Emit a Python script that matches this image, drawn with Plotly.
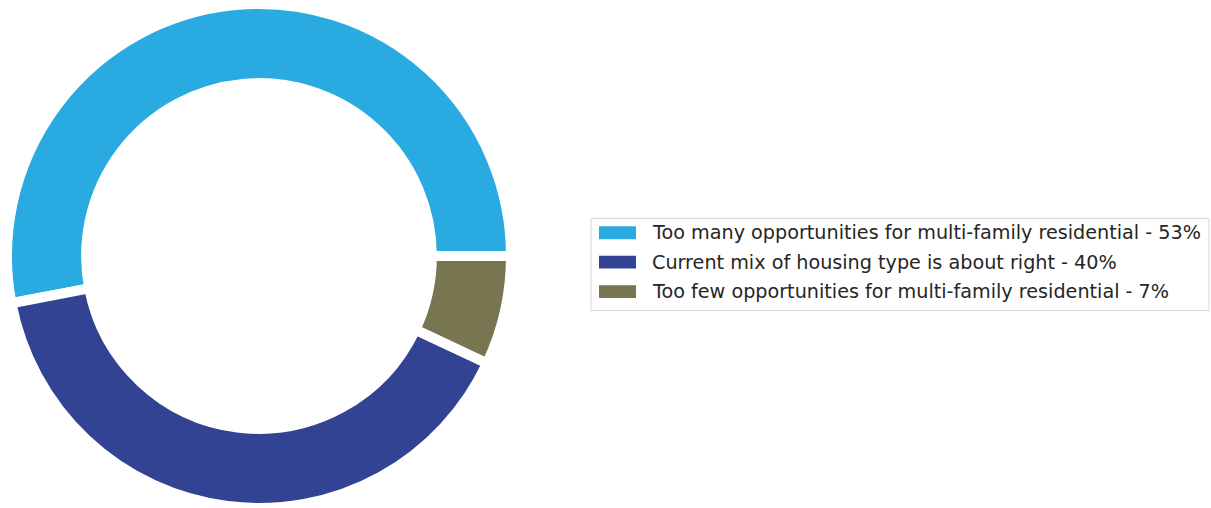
import plotly.graph_objects as go

categories = [
    "Too many opportunities for multi-family residential",
    "Current mix of housing type is about right",
    "Too few opportunities for multi-family residential",
]
values = [53, 40, 7]
colors = ["#29ABE2", "#334393", "#787651"]

labels = [f"{c} - {v}%" for c, v in zip(categories, values)]

W, H = 1211, 508
# first slice starts at 3 o'clock and runs counter-clockwise
rotation = 90 - 360 * values[0] / sum(values)

fig = go.Figure(
    go.Pie(
        labels=labels,
        values=values,
        hole=0.686,
        sort=False,
        direction="counterclockwise",
        rotation=rotation,
        textinfo="none",
        hoverinfo="label",
        showlegend=False,
        marker=dict(colors=colors, line=dict(color="white", width=10)),
        domain=dict(x=[7 / W, 511 / W], y=[0, 1]),
    )
)

# legend (drawn as box + swatches + text)
lx0, lx1, ly0, ly1 = 591, 1209, 216, 309
shapes = [
    dict(type="rect", xref="paper", yref="paper",
         x0=lx0 / W, x1=lx1 / W, y0=1 - ly1 / H, y1=1 - ly0 / H,
         line=dict(color="#d6d6d6", width=1), fillcolor="rgba(255,255,255,0.8)", layer="below")
]
annotations = []
row_h = 29.7
first_center = 230.5
for i, (lab, col) in enumerate(zip(labels, colors)):
    cy = first_center + i * row_h
    shapes.append(dict(type="rect", xref="paper", yref="paper",
                       x0=599 / W, x1=636 / W,
                       y0=1 - (cy + 6.5) / H, y1=1 - (cy - 6.5) / H,
                       line=dict(width=0), fillcolor=col))
    annotations.append(dict(text=lab, xref="paper", yref="paper",
                            x=650 / W, y=1 - cy / H, xanchor="left", yanchor="middle",
                            showarrow=False,
                            font=dict(family="DejaVu Sans", size=19.2, color="#262626")))

fig.update_layout(
    width=W,
    height=H,
    margin=dict(l=0, r=0, t=4, b=0),
    paper_bgcolor="white",
    plot_bgcolor="white",
    font=dict(family="DejaVu Sans", size=16, color="#262626"),
    shapes=shapes,
    annotations=annotations,
    showlegend=False,
)

fig.write_html("out.html")
